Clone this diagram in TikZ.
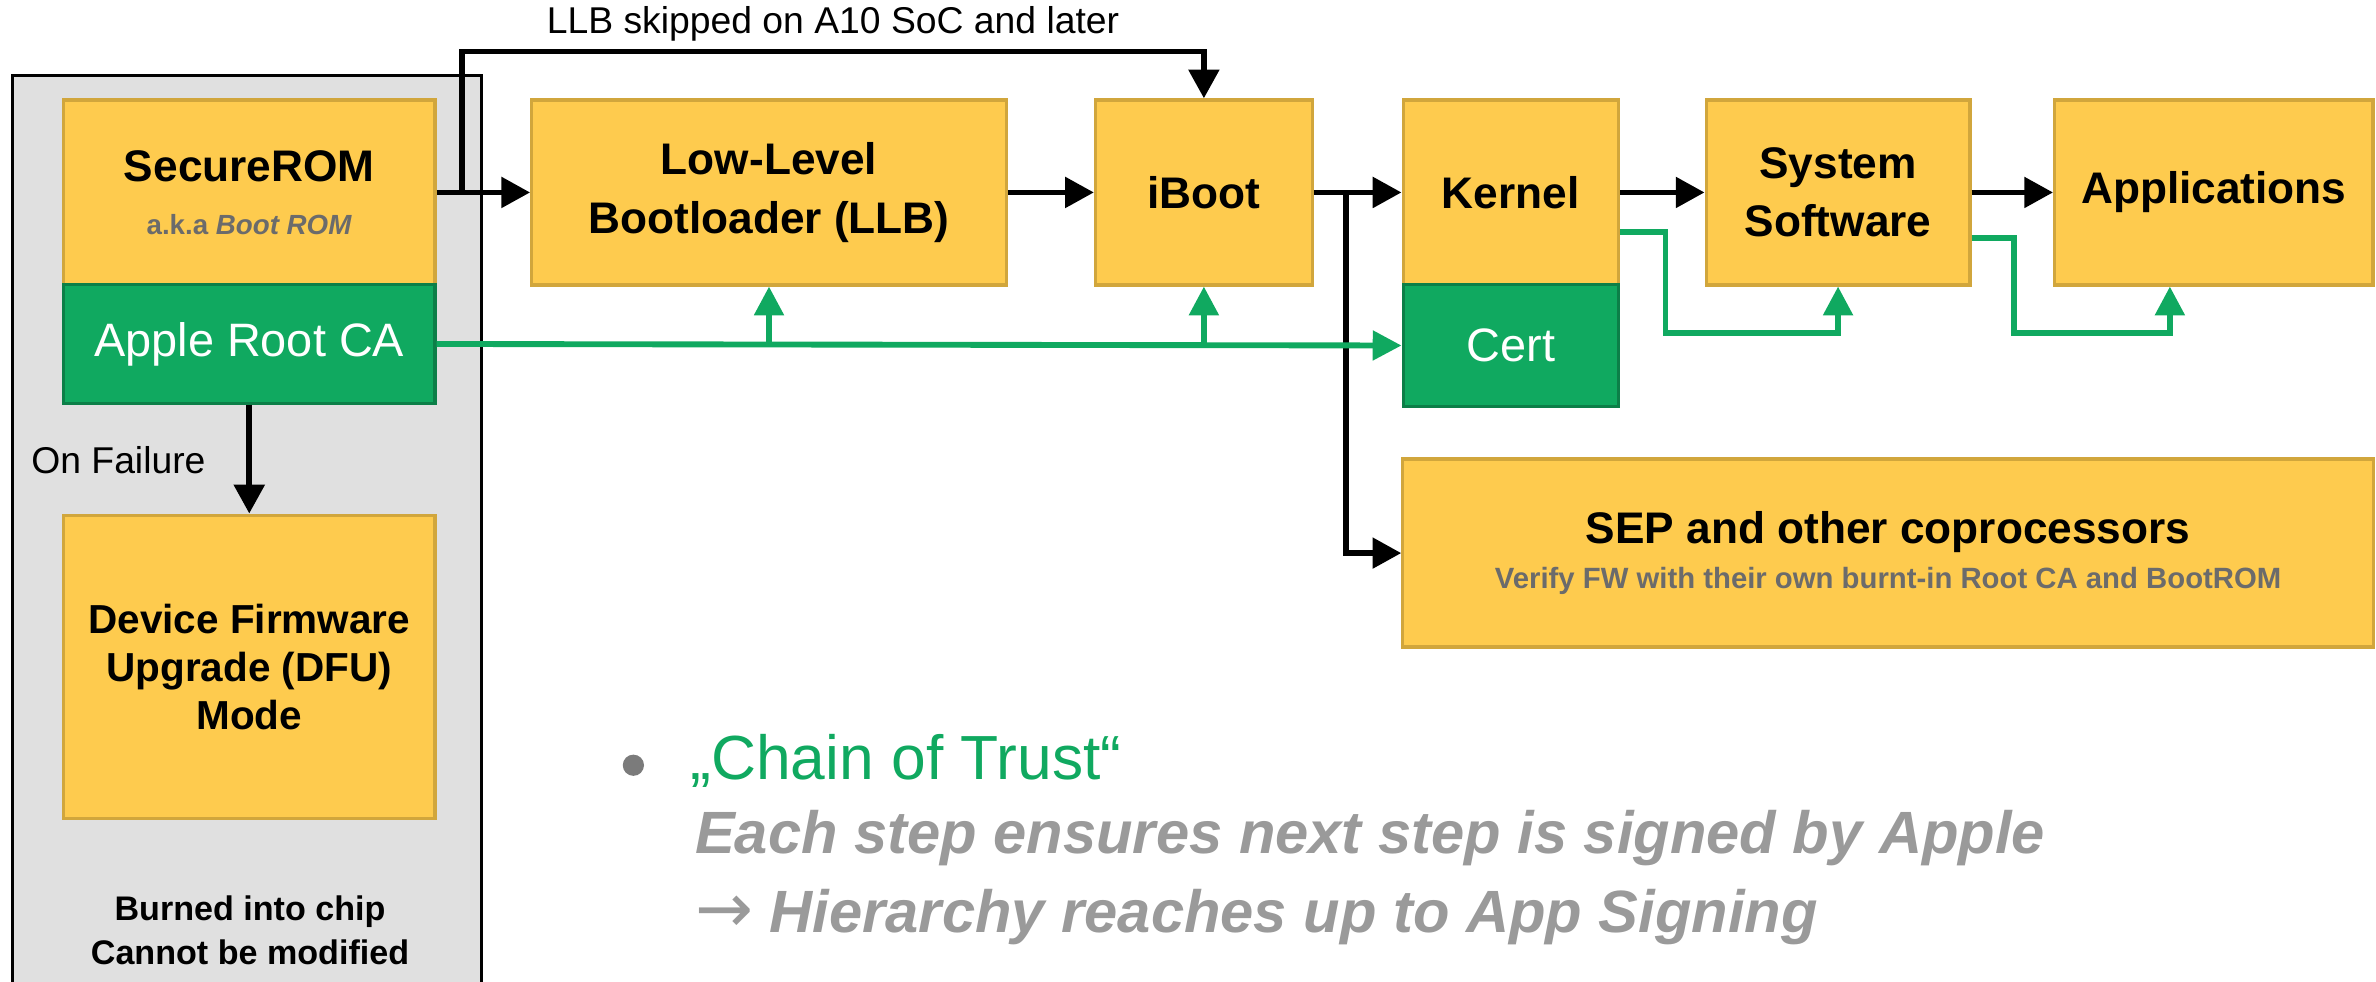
\documentclass[tikz,border=0pt]{standalone}
\usepackage{fontspec}
\setmainfont{Liberation Sans}
\newfontfamily\arrowfont{DejaVu Sans}
\usetikzlibrary{arrows.meta}

\definecolor{boxyellow}{HTML}{FECB4E}
\definecolor{boxedge}{HTML}{D1A63C}
\definecolor{certgreen}{HTML}{10A960}
\definecolor{chipgray}{HTML}{E0E0E0}
\definecolor{notegray}{HTML}{6B6B6B}
\definecolor{bulletgray}{HTML}{9A9A9A}

\tikzset{
  stage/.style={draw=boxedge, fill=boxyellow, line width=0.6pt, align=center, inner sep=0pt,
    font=\fontsize{8.3}{11}\selectfont\bfseries},
  ca/.style={draw=certgreen!75!black, fill=certgreen, line width=0.6pt, text=white, inner sep=0pt,
    font=\fontsize{8.8}{10}\selectfont},
  flow/.style={line width=1.1pt, -{Triangle[length=5.4pt,width=5.6pt]}},
  trust/.style={certgreen, line width=1.1pt, -{Triangle[length=5.4pt,width=5.4pt]}},
}

\begin{document}
\begin{tikzpicture}[x=0.01cm, y=-0.01cm]
\useasboundingbox (0,0) rectangle (1568,648);

% chip area
\filldraw[fill=chipgray, draw=black, line width=0.6pt] (8,50) rectangle (318,700);

\node[stage, minimum width=2.45cm, minimum height=1.22cm] (secure) at (164.5,127)
  {SecureROM\\[-1pt]{\fontsize{5.2}{6}\selectfont\color{notegray}a.k.a \textit{Boot ROM}}};
\node[ca, minimum width=2.45cm, minimum height=0.78cm] (rootca) at (164.5,227) {Apple Root CA};
\node[stage, minimum width=2.45cm, minimum height=2cm, font=\fontsize{7.6}{9}\selectfont\bfseries] (dfu) at (164.5,440)
  {Device Firmware\\Upgrade (DFU)\\Mode};
\node[anchor=west, inner sep=0pt, font=\fontsize{7}{8}\selectfont] (fail) at (20,304) {On Failure};
\node[align=center, inner sep=0pt, font=\fontsize{6.4}{8.3}\selectfont\bfseries] (burned) at (165,614)
  {Burned into chip\\Cannot be modified};

% boot stages
\node[stage, minimum width=3.13cm, minimum height=1.22cm] (llb) at (507.5,127) {Low-Level\\Bootloader (LLB)};
\node[stage, minimum width=1.43cm, minimum height=1.22cm] (iboot) at (794.5,127) {iBoot};
\node[stage, minimum width=1.42cm, minimum height=1.22cm] (kernel) at (997,127) {Kernel};
\node[ca, minimum width=1.42cm, minimum height=0.8cm] (cert) at (997,228) {Cert};
\node[stage, minimum width=1.74cm, minimum height=1.22cm] (syssw) at (1213,127) {System\\Software};
\node[stage, minimum width=2.10cm, minimum height=1.22cm] (apps) at (1461,127) {Applications};
\node[stage, minimum width=6.40cm, minimum height=1.24cm] (sep) at (1246,365)
  {SEP and other coprocessors\\[-2.5pt]{\fontsize{5.5}{6}\selectfont\color{notegray}Verify FW with their own burnt-in Root CA and BootROM}};

\coordinate (skip) at (305,127);
\coordinate (fork) at (888,127);

\draw[flow] (secure.east) -- (llb.west);
\draw[flow] (skip) -- ++(0,-93) -| node[pos=0.25, above, inner sep=1.3pt, font=\fontsize{7}{8}\selectfont] (skiplbl)
  {LLB skipped on A10 SoC and later} (iboot.north);
\draw[flow] (llb) -- (iboot);
\draw[flow] (iboot) -- (kernel);
\draw[flow] (fork) |- (sep.west);
\draw[flow] (kernel) -- (syssw);
\draw[flow] (syssw) -- (apps);
\draw[flow] (rootca) -- (dfu);

% signatures
\draw[trust] (rootca.east) -- (cert.west);
\draw[trust] (llb.south |- rootca.east) -- (llb.south);
\draw[trust] (iboot.south |- rootca.east) -- (iboot.south);
\draw[trust] ([yshift=-0.26cm]kernel.east) -| ++(30,67) -| (syssw.south);
\draw[trust] ([yshift=-0.30cm]syssw.east) -| ++(28,63) -| ([xshift=-0.29cm]apps.south);

% note
\fill[bulletgray!80!black] (418,505) circle (7);
\node[anchor=west, inner sep=0pt, text=certgreen, font=\fontsize{11.7}{14}\selectfont] (chain) at (455,502)
  {„Chain of Trust“};
\node[anchor=west, inner sep=0pt, text=bulletgray, font=\fontsize{11.2}{14}\selectfont\bfseries\itshape] (each) at (458,553)
  {Each step ensures next step is signed by Apple};
\node[anchor=west, inner sep=0pt, text=bulletgray, font=\fontsize{11.2}{14}\selectfont\bfseries\itshape] (hier) at (458,605)
  {{\arrowfont\fontsize{13}{14}\selectfont\mdseries\upshape →} Hierarchy reaches up to App Signing};
\end{tikzpicture}
\end{document}
